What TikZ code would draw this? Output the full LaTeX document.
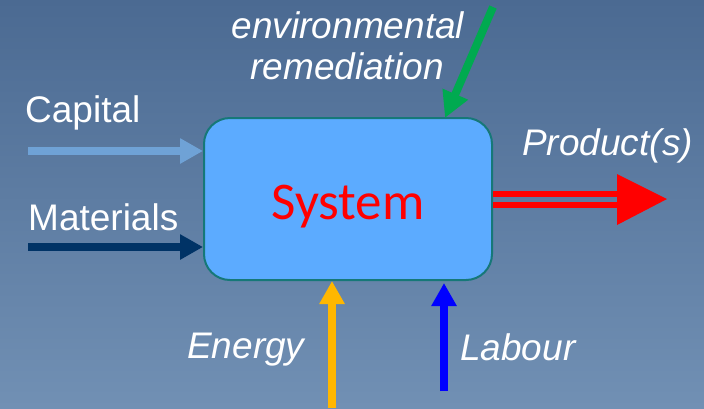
\documentclass[tikz,border=0pt]{standalone}
\usepackage{fontspec}
\setmainfont{Liberation Sans}
\newfontfamily\boxfont{Carlito}
\usetikzlibrary{arrows.meta}
\definecolor{bgtop}{HTML}{4B6A92}
\definecolor{bgbot}{HTML}{7190B4}
\definecolor{boxfill}{HTML}{5CABFF}
\definecolor{boxedge}{HTML}{167878}
\definecolor{capcol}{HTML}{6FA2D6}
\definecolor{matcol}{HTML}{003366}
\definecolor{envcol}{HTML}{00AA50}
\definecolor{energycol}{HTML}{FFB700}
\definecolor{labourcol}{HTML}{0000FF}
\definecolor{prodcol}{HTML}{FF0000}
\begin{document}
\begin{tikzpicture}[x=1pt,y=-1pt,
  lbl/.style={text=white,font=\fontsize{37}{40}\selectfont,inner sep=0pt,anchor=base west},
  ilbl/.style={lbl,font=\fontsize{37}{40}\selectfont\itshape},
  flow/.style={line width=8pt,-{Triangle[length=23pt,width=24pt]}},
]
% background
\shade[top color=bgtop,bottom color=bgbot] (0,0) rectangle (704,408);
\useasboundingbox (0,0) rectangle (704,408);

% central block
\node[draw=boxedge,line width=2pt,fill=boxfill,rounded corners=26pt,
      minimum width=288pt,minimum height=162pt,inner sep=0pt] (sys) at (348,199) {};
\node[text=red,font=\boxfont\fontsize{53}{56}\selectfont,anchor=base] (systxt) at (348,219) {System};

% labels
\node[lbl] (capital) at (25,122) {Capital};
\node[lbl] (materials) at (28,230) {Materials};
\node[ilbl,anchor=base] (env1) at (348,38) {environmental};
\node[ilbl,anchor=base] (env2) at (347,79) {remediation};
\node[ilbl] (prod) at (522,155) {Product(s)};
\node[ilbl] (energy) at (187,358) {Energy};
\node[ilbl] (labour) at (460,360) {Labour};

% free ends of the flows
\coordinate (capin) at (28,151);
\coordinate (matin) at (28,247);
\coordinate (envin) at (493,7);
\coordinate (enin) at (332,408);
\coordinate (labin) at (444,391);
\coordinate (prodout) at (617,199);

% inputs
\draw[flow,capcol] (capin) -- (capin -| sys.west);
\draw[flow,matcol] (matin) -- (matin -| sys.west);
\draw[flow,envcol,-{Triangle[length=26pt,width=26pt]}] (envin) -- (445,118);
\draw[flow,energycol] (enin) -- (enin |- sys.south);
\draw[flow,labourcol] (labin) -- (444,283);

% output: double line with a large head
\draw[prodcol,line width=6pt] ([yshift=-6pt]sys.east) -- ([yshift=-6pt]prodout);
\draw[prodcol,line width=6pt] ([yshift=5.5pt]sys.east) -- ([yshift=5.5pt]prodout);
\fill[prodcol] ([yshift=-26pt]prodout) -- (667,199) -- ([yshift=25pt]prodout) -- cycle;
\end{tikzpicture}
\end{document}
